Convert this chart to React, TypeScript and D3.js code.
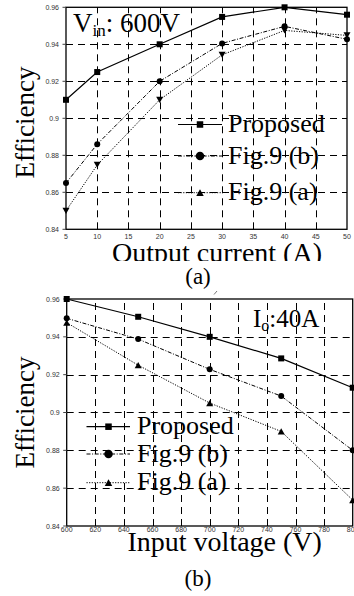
import React from "react";
import * as d3 from "d3";

// Panel (a): efficiency vs output current at Vin = 600 V
const currentA = [5, 10, 20, 30, 40, 50];
const proposedA = [0.91, 0.925, 0.94, 0.9548, 0.96, 0.956];
const fig9bA = [0.865, 0.886, 0.92, 0.9405, 0.9497, 0.9427];
const fig9aA = [0.85, 0.8748, 0.91, 0.9343, 0.9475, 0.9448];
const xTicksA = [5, 10, 15, 20, 25, 30, 35, 40, 45, 50];

// Panel (b): efficiency vs input voltage at Io = 40 A
const voltageB = [600, 650, 700, 750, 800];
const proposedB = [0.96, 0.9506, 0.94, 0.9286, 0.9131];
const fig9bB = [0.9498, 0.9388, 0.9228, 0.9087, 0.88];
const fig9aB = [0.9475, 0.925, 0.905, 0.89, 0.8537];
const xTicksB = [600, 620, 640, 660, 680, 700, 720, 740, 760, 780, 800];

const yTicks = [0.84, 0.86, 0.88, 0.9, 0.92, 0.94, 0.96];
const seriesNames = ["Proposed", "Fig.9 (b)", "Fig.9 (a)"];

const SERIF = "'Liberation Serif', 'Times New Roman', serif";
const SANS = "'Liberation Sans', Arial, sans-serif";

type Marker = "square" | "circle" | "triUp" | "triDown";

function MarkerShape({ kind, x, y, s }: { kind: Marker; x: number; y: number; s: number }) {
  if (kind === "square") {
    return <rect x={x - s / 2} y={y - s / 2} width={s} height={s} fill="#000" />;
  }
  if (kind === "circle") {
    return <circle cx={x} cy={y} r={s / 2} fill="#000" />;
  }
  const h = s * 0.9;
  const d =
    kind === "triUp"
      ? `M${x},${y - h / 2}L${x + s / 2},${y + h / 2}L${x - s / 2},${y + h / 2}Z`
      : `M${x},${y + h / 2}L${x + s / 2},${y - h / 2}L${x - s / 2},${y - h / 2}Z`;
  return <path d={d} fill="#000" />;
}

const styles = [
  { dash: undefined as string | undefined, width: 1.2 },
  { dash: "4,1.6,1,1.6", width: 1 },
  { dash: "1.2,1.4", width: 1 },
];

interface PanelProps {
  left: number;
  right: number;
  top: number;
  bottom: number;
  xDomain: [number, number];
  xs: number[];
  series: number[][];
  markers: Marker[];
  legendMarkers: Marker[];
  xTicks: number[];
  xTickOffset: number;
  legendX: number;
  legendRows: number[];
  legendLine: [number, number];
  legendText: number;
  xLabel: string;
  xLabelX: number;
  xLabelY: number;
  xLabelClip?: number;
  yLabelY: number;
  caption: string;
  captionY: number;
  id: string;
}

function Panel(p: PanelProps) {
  const x = d3.scaleLinear().domain(p.xDomain).range([p.left, p.right]);
  const y = d3.scaleLinear().domain([0.84, 0.96]).range([p.bottom, p.top]);
  const line = (vals: number[]) =>
    d3
      .line<number>()
      .x((_, i) => x(p.xs[i]))
      .y((v) => y(v))(vals) as string;

  const markerSizes = { square: 6, circle: 6, triUp: 7, triDown: 7 };
  const legendSizes = { square: 6.5, circle: 8.5, triUp: 7.5, triDown: 7.5 };

  // dashed grid as a single path, snapped to the pixel grid
  const grid = d3.path();
  p.xTicks.slice(1, -1).forEach((t) => {
    const gx = Math.round(x(t)) + 0.5;
    grid.moveTo(gx, p.bottom);
    grid.lineTo(gx, p.top);
  });
  yTicks.slice(1, -1).forEach((t) => {
    const gy = Math.round(y(t)) + 0.5;
    grid.moveTo(p.left, gy);
    grid.lineTo(p.right, gy);
  });

  return (
    <g>
      {p.xLabelClip !== undefined && (
        <defs>
          <clipPath id={`clip-${p.id}`}>
            <rect x={0} y={0} width={354} height={p.xLabelClip} />
          </clipPath>
        </defs>
      )}
      <path d={grid.toString()} fill="none" stroke="#000000" strokeWidth={1} strokeDasharray="7 5" />
      {/* frame */}
      <rect
        x={p.left}
        y={p.top}
        width={p.right - p.left}
        height={p.bottom - p.top}
        fill="none"
        stroke="#000"
        strokeWidth={1.3}
      />
      {/* y ticks */}
      {yTicks.map((t) => (
        <g key={`yt${t}`}>
          <line x1={p.left - 3.5} x2={p.left} y1={y(t)} y2={y(t)} stroke="#444" strokeWidth={1} />
          <text
            x={p.left - 7}
            y={y(t) + 2.5}
            textAnchor="end"
            fontFamily={SANS}
            fontSize={7}
            fill="#333"
          >
            {d3.format(".2f")(t).replace(/0$/, "")}
          </text>
        </g>
      ))}
      {/* x ticks */}
      {p.xTicks.map((t) => (
        <text
          key={`xt${t}`}
          x={x(t)}
          y={p.bottom + p.xTickOffset}
          textAnchor="middle"
          fontFamily={SANS}
          fontSize={7}
          fill="#333"
        >
          {t}
        </text>
      ))}
      {/* series */}
      {p.series.map((vals, si) => (
        <g key={`s${si}`}>
          <path
            d={line(vals)}
            fill="none"
            stroke="#000"
            strokeWidth={styles[si].width}
            strokeDasharray={styles[si].dash}
          />
          {vals.map((v, i) => (
            <MarkerShape
              key={i}
              kind={p.markers[si]}
              x={x(p.xs[i])}
              y={y(v)}
              s={markerSizes[p.markers[si]]}
            />
          ))}
        </g>
      ))}
      {/* legend */}
      {seriesNames.map((name, si) => (
        <g key={`l${si}`}>
          <line
            x1={p.legendLine[0]}
            x2={p.legendLine[1]}
            y1={p.legendRows[si]}
            y2={p.legendRows[si]}
            stroke="#000"
            strokeWidth={styles[si].width}
            strokeDasharray={styles[si].dash}
          />
          <MarkerShape
            kind={p.legendMarkers[si]}
            x={p.legendX}
            y={p.legendRows[si]}
            s={legendSizes[p.legendMarkers[si]]}
          />
          <text
            x={p.legendText}
            y={p.legendRows[si] + 7.5}
            fontFamily={SERIF}
            fontSize={26}
            fill="#000"
          >
            {name}
          </text>
        </g>
      ))}
      {/* axis titles */}
      <text
        transform={`translate(33.5,${p.yLabelY}) rotate(-90)`}
        textAnchor="middle"
        fontFamily={SERIF}
        fontSize={27}
        fill="#000"
      >
        Efficiency
      </text>
      <text
        x={p.xLabelX}
        y={p.xLabelY}
        textAnchor="middle"
        fontFamily={SERIF}
        fontSize={28}
        fill="#000"
        clipPath={p.xLabelClip !== undefined ? `url(#clip-${p.id})` : undefined}
      >
        {p.xLabel}
      </text>
      <text
        x={198}
        y={p.captionY}
        textAnchor="middle"
        fontFamily={SERIF}
        fontSize={23}
        fill="#000"
      >
        {p.caption}
      </text>
    </g>
  );
}

export default function App() {
  return (
    <svg
      width={354}
      height={596}
      viewBox="0 0 354 596"
      style={{ position: "absolute", left: 0, top: 0, background: "#fff" }}
    >
      <rect width={354} height={596} fill="#fff" />
      <Panel
        id="a"
        left={66}
        right={347}
        top={7.3}
        bottom={229.3}
        xDomain={[5, 50]}
        xs={currentA}
        series={[proposedA, fig9bA, fig9aA]}
        markers={["square", "circle", "triDown"]}
        legendMarkers={["square", "circle", "triUp"]}
        xTicks={xTicksA}
        xTickOffset={9.5}
        legendX={200}
        legendRows={[124.5, 156, 192.7]}
        legendLine={[178, 222]}
        legendText={228}
        xLabel="Output current (A)"
        xLabelX={217}
        xLabelY={262}
        xLabelClip={261}
        yLabelY={122.5}
        caption="(a)"
        captionY={284}
      />
      <text x={73} y={31.7} fontFamily={SERIF} fontSize={27} fill="#000">
        V
        <tspan fontSize={17} dy={4}>
          in
        </tspan>
        <tspan dy={-4}>: 600V</tspan>
      </text>

      <Panel
        id="b"
        left={66.7}
        right={352.7}
        top={299}
        bottom={526}
        xDomain={[600, 800]}
        xs={voltageB}
        series={[proposedB, fig9bB, fig9aB]}
        markers={["square", "circle", "triUp"]}
        legendMarkers={["square", "circle", "triUp"]}
        xTicks={xTicksB}
        xTickOffset={5.5}
        legendX={108.5}
        legendRows={[426.7, 454, 482.7]}
        legendLine={[86.5, 130]}
        legendText={137}
        xLabel="Input voltage (V)"
        xLabelX={224.7}
        xLabelY={550.5}
        yLabelY={412.5}
        caption="(b)"
        captionY={586}
      />
      <text x={253} y={326.5} fontFamily={SERIF} fontSize={25} fill="#000">
        I
        <tspan fontSize={16} dy={4}>
          o
        </tspan>
        <tspan dy={-4}>:40A</tspan>
      </text>
      {/* small stroke above panel (b) */}
      <line x1={214} y1={294.5} x2={217} y2={291} stroke="#555" strokeWidth={0.8} />
    </svg>
  );
}
